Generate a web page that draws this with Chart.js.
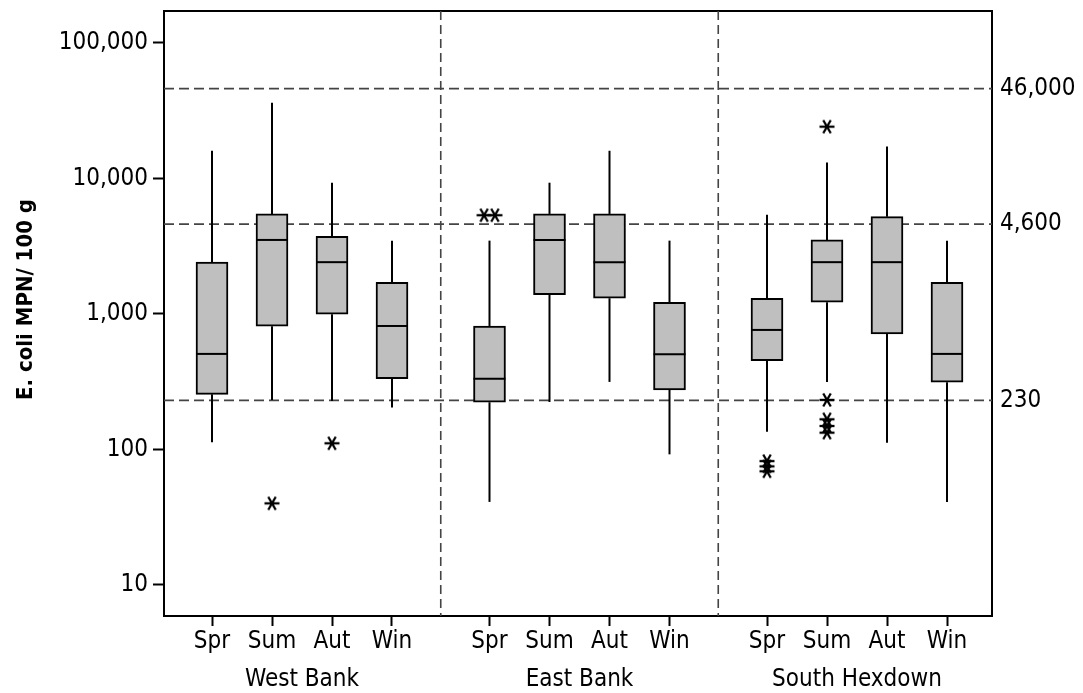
<!DOCTYPE html>
<html>
<head>
<meta charset="utf-8">
<script src="https://cdn.jsdelivr.net/npm/chart.js@4/dist/chart.umd.min.js"></script>
<style>
  html, body { margin: 0; padding: 0; background: #fff; }
  canvas { display: block; }
</style>
</head>
<body>
<canvas id="boxChart" width="1083" height="693"></canvas>
<script>
const sites = ['West Bank', 'East Bank', 'South Hexdown'];
const seasons = ['Spr', 'Sum', 'Aut', 'Win'];

// one value per box: West Bank Spr..Win, East Bank Spr..Win, South Hexdown Spr..Win
const whiskerLow = [113, 232, 228, 204, 41, 224, 315, 92, 135, 315, 112, 41];
const q1 = [255, 811, 995, 333, 223, 1387, 1306, 275, 452, 1219, 711, 313];
const median = [507, 3516, 2410, 815, 333, 3516, 2410, 505, 762, 2410, 2410, 507];
const q3 = [2410, 5470, 3740, 1714, 815, 5470, 5470, 1219, 1306, 3516, 5220, 1714];
const whiskerHigh = [16000, 36200, 9300, 3475, 3475, 9300, 16000, 3475, 5400, 13100, 17200, 3475];
const outliers = [[], [40], [111], [], [5350, 5350], [], [], [], [82, 75, 69], [24100, 232, 167, 149, 133], [], []];

const yTicks = [10, 100, 1000, 10000, 100000];
const refLines = [230, 4600, 46000];
const yTitle = 'E. coli MPN/ 100 g';

const fontFamily = '"DejaVu Sans Condensed", "DejaVu Sans", sans-serif';
const groupStride = 4.625;
const firstOffset = 0.8;
const xMax = 13.8;
const yMin = 5.9;
const yMax = 172000;

const xPos = i => Math.floor(i / seasons.length) * groupStride + (i % seasons.length) + firstOffset;

// asterisk marker like the minitab one
const star = document.createElement('canvas');
star.width = 20;
star.height = 20;
const sctx = star.getContext('2d');
sctx.strokeStyle = '#000';
sctx.lineWidth = 2.3;
[0, Math.PI / 3, 2 * Math.PI / 3].forEach(a => {
  sctx.beginPath();
  sctx.moveTo(10 - 7.5 * Math.cos(a), 10 - 7.5 * Math.sin(a));
  sctx.lineTo(10 + 7.5 * Math.cos(a), 10 + 7.5 * Math.sin(a));
  sctx.stroke();
});

const boxes = q1.map((lo, i) => ({ x: xPos(i), y: [lo, q3[i]] }));

// equal outliers sit side by side
const outlierPoints = [];
outliers.forEach((vals, i) => {
  vals.forEach((v, k) => {
    const same = vals.filter(w => w === v).length;
    const idx = vals.slice(0, k).filter(w => w === v).length;
    outlierPoints.push({ x: xPos(i) + (idx - (same - 1) / 2) * 0.18, y: v });
  });
});

const line = (ctx, x1, y1, x2, y2) => {
  ctx.beginPath();
  ctx.moveTo(x1, y1);
  ctx.lineTo(x2, y2);
  ctx.stroke();
};

const boxPlotPlugin = {
  id: 'boxPlot',
  beforeDatasetsDraw(chart) {
    const { ctx, chartArea: a, scales: { x, y } } = chart;
    ctx.save();
    ctx.beginPath();
    ctx.rect(a.left, a.top, a.width, a.height);
    ctx.clip();

    ctx.strokeStyle = '#444';
    ctx.lineWidth = 1.6;
    ctx.setLineDash([10, 5]);
    refLines.forEach(v => {
      const py = y.getPixelForValue(v);
      line(ctx, a.left, py, a.right, py);
    });
    ctx.setLineDash([9, 5]);
    for (let g = 1; g < sites.length; g++) {
      const mid = (xPos(g * seasons.length - 1) + xPos(g * seasons.length)) / 2;
      const px = x.getPixelForValue(mid);
      line(ctx, px, a.top, px, a.bottom);
    }

    ctx.setLineDash([]);
    ctx.strokeStyle = '#000';
    ctx.lineWidth = 2;
    q1.forEach((lo, i) => {
      const px = x.getPixelForValue(xPos(i));
      line(ctx, px, y.getPixelForValue(whiskerLow[i]), px, y.getPixelForValue(lo));
      line(ctx, px, y.getPixelForValue(q3[i]), px, y.getPixelForValue(whiskerHigh[i]));
    });
    ctx.restore();
  },
  afterDatasetsDraw(chart) {
    const { ctx, scales: { y } } = chart;
    const meta = chart.getDatasetMeta(0);
    ctx.save();
    ctx.strokeStyle = '#000';
    ctx.lineWidth = 2;
    meta.data.forEach((bar, i) => {
      const py = y.getPixelForValue(median[i]);
      line(ctx, bar.x - bar.width / 2, py, bar.x + bar.width / 2, py);
    });
    ctx.restore();
  },
  afterDraw(chart) {
    // axis title, sits a little above the plot centre like the original
    const { ctx, chartArea: a } = chart;
    ctx.save();
    ctx.translate(26, (a.top + a.bottom) / 2 - 14);
    ctx.rotate(-Math.PI / 2);
    ctx.font = 'bold 22px ' + fontFamily;
    ctx.fillStyle = '#000';
    ctx.textAlign = 'center';
    ctx.textBaseline = 'middle';
    ctx.fillText(yTitle, 0, 0);
    ctx.restore();
  }
};

const tickFont = { family: fontFamily, size: 24 };

// vertical axes: fixed width and no extra label padding at the ends
const fitY = w => s => {
  s.width = w;
  s.paddingTop = 0;
  s.paddingBottom = 0;
};

new Chart(document.getElementById('boxChart'), {
  type: 'bar',
  data: {
    datasets: [
      {
        data: boxes,
        backgroundColor: '#bfbfbf',
        borderColor: '#000',
        borderWidth: 2,
        borderSkipped: false,
        barThickness: 32
      },
      {
        type: 'scatter',
        data: outlierPoints,
        pointStyle: star,
        pointRadius: 10,
        showLine: false
      }
    ]
  },
  options: {
    responsive: false,
    animation: false,
    devicePixelRatio: 1,
    layout: { padding: 0 },
    plugins: {
      legend: { display: false },
      tooltip: { enabled: false }
    },
    scales: {
      x: {
        type: 'linear',
        position: 'bottom',
        offset: false,
        min: 0,
        max: xMax,
        afterBuildTicks: s => { s.ticks = q1.map((_, i) => ({ value: xPos(i) })); },
        ticks: {
          callback: (v, i) => seasons[i % seasons.length],
          autoSkip: false,
          maxRotation: 0,
          font: tickFont,
          color: '#000',
          padding: 1
        },
        grid: { offset: false, drawOnChartArea: false, tickLength: 10, tickColor: '#000', tickWidth: 2 },
        border: { color: '#000', width: 2 },
        afterFit: s => { s.height = 40; }
      },
      xGroup: {
        type: 'linear',
        position: 'bottom',
        offset: false,
        weight: 1,
        min: 0,
        max: xMax,
        afterBuildTicks: s => {
          s.ticks = sites.map((_, g) => ({ value: (xPos(g * seasons.length) + xPos(g * seasons.length + 3)) / 2 }));
        },
        ticks: {
          callback: (v, i) => sites[i],
          autoSkip: false,
          maxRotation: 0,
          font: tickFont,
          color: '#000',
          padding: 1
        },
        grid: { display: false, offset: false },
        border: { display: false },
        afterFit: s => { s.height = 37; }
      },
      xTop: {
        type: 'linear',
        position: 'top',
        offset: false,
        min: 0,
        max: xMax,
        ticks: { display: false },
        grid: { drawOnChartArea: false, drawTicks: false, offset: false },
        border: { color: '#000', width: 2 },
        afterFit: s => { s.height = 11; }
      },
      y: {
        type: 'logarithmic',
        position: 'left',
        min: yMin,
        max: yMax,
        afterBuildTicks: s => { s.ticks = yTicks.map(v => ({ value: v })); },
        ticks: {
          callback: v => Number(v).toLocaleString('en-US'),
          font: tickFont,
          color: '#000',
          padding: 5
        },
        grid: { drawOnChartArea: false, tickLength: 11, tickColor: '#000', tickWidth: 2 },
        border: { color: '#000', width: 2 },
        afterFit: fitY(164)
      },
      yRight: {
        type: 'logarithmic',
        position: 'right',
        min: yMin,
        max: yMax,
        afterBuildTicks: s => { s.ticks = refLines.map(v => ({ value: v })); },
        ticks: {
          callback: v => Number(v).toLocaleString('en-US'),
          font: tickFont,
          color: '#000',
          padding: 8
        },
        grid: { drawOnChartArea: false, drawTicks: false },
        border: { color: '#000', width: 2 },
        afterFit: fitY(91)
      }
    }
  },
  plugins: [boxPlotPlugin]
});
</script>
</body>
</html>
